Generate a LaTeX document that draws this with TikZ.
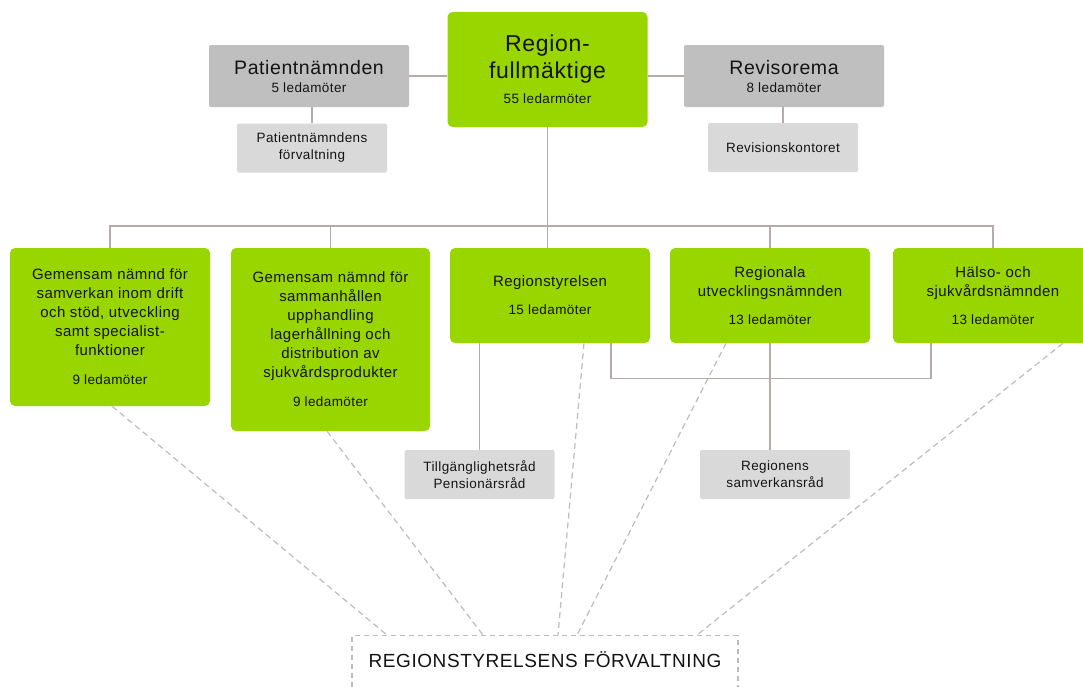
\documentclass[tikz,border=0pt]{standalone}
\usepackage{fontspec}
\setmainfont{Liberation Sans}[LetterSpace=3]
\definecolor{boardgreen}{HTML}{99D600}
\definecolor{boardgray}{HTML}{BFBFBF}
\definecolor{officegray}{HTML}{D9D9D9}
\definecolor{linegray}{HTML}{B3ACA8}
\definecolor{dashgray}{HTML}{BFBCB9}
\definecolor{inkdark}{HTML}{141414}
\begin{document}
\begin{tikzpicture}[x=1pt,y=-1pt,
  every node/.style={text=inkdark, align=center, inner sep=0pt},
  greenbox/.style={fill=boardgreen, rounded corners=5pt, minimum width=200pt,
    font=\fontsize{15}{19}\selectfont},
  graybox/.style={fill=boardgray, rounded corners=2pt, minimum width=200pt, minimum height=62pt,
    font=\fontsize{19.5}{22}\selectfont},
  officebox/.style={fill=officegray, rounded corners=2pt, minimum width=150pt, minimum height=49pt,
    font=\fontsize{13.5}{17}\selectfont},
  conn/.style={draw=linegray, line width=1.4pt},
  staff/.style={draw=dashgray, line width=1.2pt, dash pattern=on 6pt off 4pt}]
  \clip (0,0) rectangle (1083,686);
  \fill[white] (0,0) rectangle (1083,686);

  % top level
  \node[greenbox, minimum height=115pt, font=\fontsize{23}{27}\selectfont] (fm) at (547.5,69.5)
    {Region-\\fullmäktige\\[-2pt]{\fontsize{13.5}{16}\selectfont 55 ledarmöter}};
  \node[graybox] (pn) at (309,76) {Patientnämnden\\[-4pt]{\fontsize{13.5}{16}\selectfont 5 ledamöter}};
  \node[graybox] (rev) at (784,76) {Revisorema\\[-4pt]{\fontsize{13.5}{16}\selectfont 8 ledamöter}};
  \node[officebox] (pnf) at (312,148) {Patientnämndens\\förvaltning};
  \node[officebox] (revk) at (783,147.5) {Revisionskontoret};

  % boards
  \node[greenbox, minimum height=158pt] (gn1) at (110,327)
    {Gemensam nämnd för\\samverkan inom drift\\och stöd, utveckling\\samt specialist-\\funktioner\\[10pt]{\fontsize{13.5}{16}\selectfont 9 ledamöter}};
  \node[greenbox, minimum height=183pt, minimum width=199pt] (gn2) at (330.5,339.5)
    {Gemensam nämnd för\\sammanhållen\\upphandling\\lagerhållning och\\distribution av\\sjukvårdsprodukter\\[10pt]{\fontsize{13.5}{16}\selectfont 9 ledamöter}};
  \node[greenbox, minimum height=95pt] (rs) at (550,295.5)
    {Regionstyrelsen\\[9pt]{\fontsize{13.5}{16}\selectfont 15 ledamöter}};
  \node[greenbox, minimum height=95pt] (run) at (770,295.5)
    {Regionala\\utvecklingsnämnden\\[9pt]{\fontsize{13.5}{16}\selectfont 13 ledamöter}};
  \node[greenbox, minimum height=95pt] (hsn) at (993,295.5)
    {Hälso- och\\sjukvårdsnämnden\\[9pt]{\fontsize{13.5}{16}\selectfont 13 ledamöter}};

  \node[officebox] (tpr) at (479.5,474.5) {Tillgänglighetsråd\\Pensionärsråd};
  \node[officebox] (rsr) at (775,474.5) {Regionens\\samverkansråd};

  \node[draw=dashgray, line width=1.2pt, dash pattern=on 5pt off 4pt, anchor=north,
    minimum width=386pt, text height=32pt, text depth=50pt,
    font=\fontsize{19}{22}\selectfont] (forv) at (545,635) {REGIONSTYRELSENS FÖRVALTNING};

  % solid lines
  \draw[conn] (pn.east) -- (pn.east -| fm.west);
  \draw[conn] (rev.west -| fm.east) -- (rev.west);
  \draw[conn] (pnf.north) -- (pnf.north |- pn.south);
  \draw[conn] (revk.north) -- (revk.north |- rev.south);
  \draw[conn] (gn1.north) -- ++(0,-22) -| (hsn.north);
  \draw[conn] (fm.south) -- (fm.south |- rs.north);
  \draw[conn] (gn2.north) -- ++(0,-22);
  \draw[conn] (run.north) -- ++(0,-22);
  \draw[conn] (tpr.north) -- (tpr.north |- rs.south);
  \draw[conn] (run.south) -- (run.south |- rsr.north);
  \draw[conn] ([xshift=61pt]rs.south) -- ++(0,35) -| ([xshift=-62pt]hsn.south);

  % dashed lines to the office
  \draw[staff] ([xshift=2pt]gn1.south) -- ([xshift=-158pt]forv.north);
  \draw[staff] ([xshift=-3.5pt]gn2.south) -- ([xshift=-62pt]forv.north);
  \draw[staff] ([xshift=34pt]rs.south) -- ([xshift=13pt]forv.north);
  \draw[staff] ([xshift=-44pt]run.south) -- ([xshift=32pt]forv.north);
  \draw[staff] ([xshift=70pt]hsn.south) -- ([xshift=152pt]forv.north);
\end{tikzpicture}
\end{document}
